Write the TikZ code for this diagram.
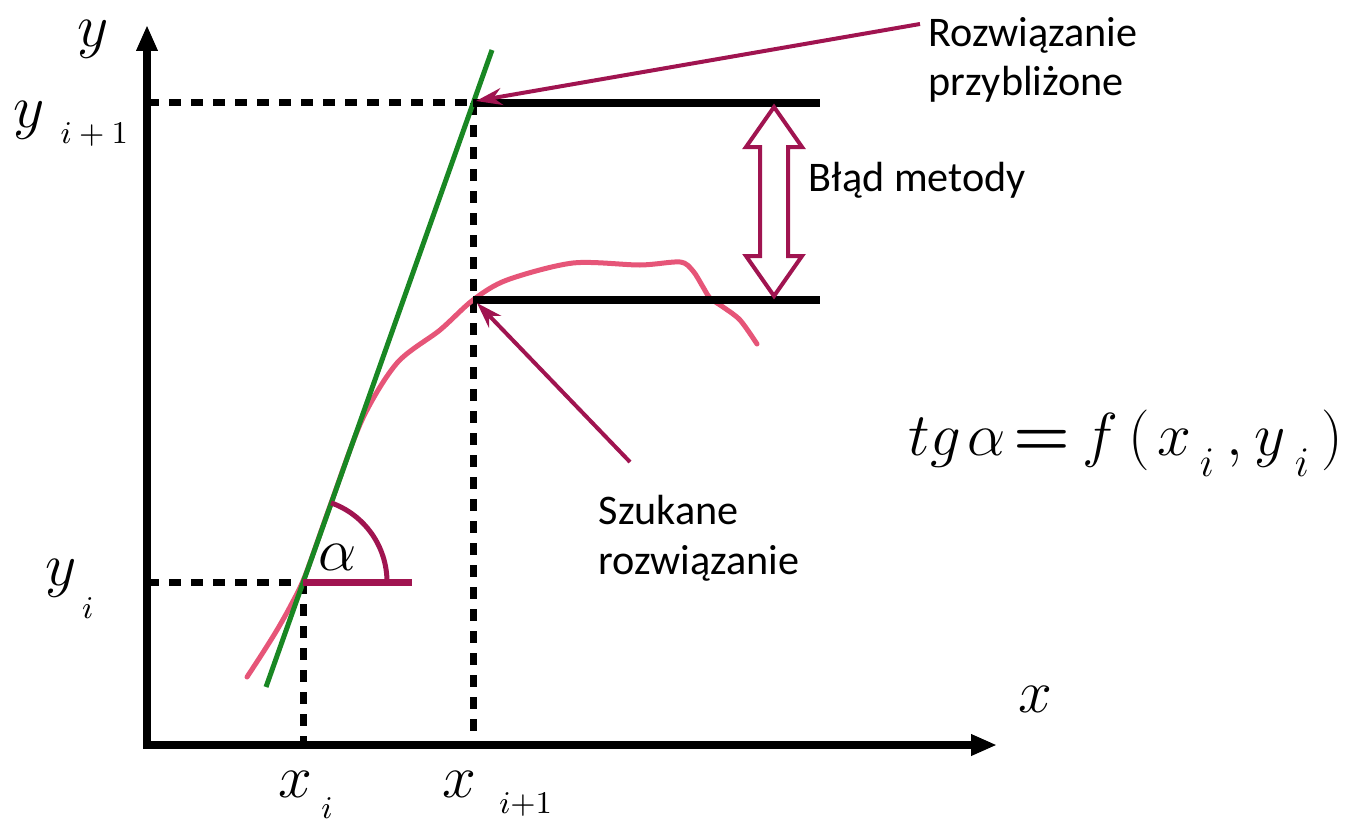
\documentclass[tikz,border=0pt]{standalone}
\usepackage{fontspec}
\newfontfamily\calibri{Carlito}
\usetikzlibrary{arrows.meta, calc}

\definecolor{berry}{RGB}{160,20,80}
\definecolor{curvepink}{RGB}{230,85,120}
\definecolor{tangentgreen}{RGB}{25,135,35}

% lowered index, as in the slide
\newcommand{\lowidx}[3]{\hspace{#1}\raisebox{-#2}{\fontsize{9}{9}\selectfont #3}}

\begin{document}
\begin{tikzpicture}[
        axisline/.style = {line width = 0.08cm, line join = miter,
            {Triangle[length = 0.26cm, width = 0.2cm]}-{Triangle[length = 0.26cm, width = 0.2cm]}},
        guide/.style = {line width = 0.07cm, dash pattern = on 0.12cm off 0.1cm},
        hline/.style = {line width = 0.08cm},
        pointer/.style = {draw = berry, line width = 0.04cm, -{Stealth[length = 0.26cm, width = 0.17cm]}},
        varlabel/.style = {inner sep = 0pt, anchor = base west, font = \fontsize{16}{18}\selectfont},
        note/.style = {inner sep = 0pt, anchor = north west, align = left,
            font = \calibri\fontsize{12}{14}\selectfont}
    ]

    \useasboundingbox (0,0) rectangle (13.46,8.22);

    % points
    \coordinate (O) at (1.47,0.77);
    \coordinate (ytop) at (1.47,7.97);
    \coordinate (xend) at (9.97,0.77);
    \coordinate (Pi) at (3.03,2.40);
    \coordinate (Pi1) at (4.73,7.19);
    \coordinate (Sol) at (4.73,5.22);

    % guides
    \draw[guide] (O |- Pi1) -- (Pi1);
    \draw[guide] (Pi1) -- (O -| Pi1);
    \draw[guide] (O |- Pi) -- (Pi);
    \draw[guide] (Pi) -- (O -| Pi);

    % exact solution
    \draw[curvepink, line width = 0.05cm, line cap = round]
        plot[smooth, tension = 0.5] coordinates {(2.47,1.45) (2.62,1.68) (2.77,1.92) (2.91,2.17) (3.05,2.46)
            (3.30,3.16) (3.62,4.02) (3.97,4.59) (4.40,4.92) (4.73,5.22) (5.07,5.42) (5.73,5.59) (6.40,5.57)
            (6.80,5.60) (6.93,5.51) (7.03,5.35) (7.10,5.24) (7.23,5.15) (7.40,5.02) (7.57,4.78)};

    % tangent
    \draw[tangentgreen, line width = 0.05cm] (2.66,1.35) -- (4.92,7.72);

    % axes
    \draw[axisline] (ytop) -- (O) -- (xend);

    \draw[hline] (Pi1) -- ++(3.47,0);
    \draw[hline] (Sol) -- ++(3.47,0);

    % angle
    \draw[berry, line width = 0.07cm] (Pi) -- ++(1.09,0);
    \draw[berry, line width = 0.05cm] ($(Pi)+(0.84,0)$) arc[start angle = 0, end angle = 70.5, radius = 0.84];

    % error arrow
    \draw[berry, line width = 0.04cm, fill = white, line join = miter]
        (7.74,7.15) -- (7.46,6.75) -- (7.60,6.75) -- (7.60,5.66) -- (7.46,5.66) -- (7.74,5.26)
        -- (8.02,5.66) -- (7.88,5.66) -- (7.88,6.75) -- (8.02,6.75) -- cycle;

    % labels
    \node[varlabel] (ylab) at (0.77,7.75) {$y$};
    \node[varlabel] (xlab) at (10.18,1.10) {$x$};
    \node[varlabel] (yi1) at (0.13,6.94) {$y$\lowidx{4.5pt}{4.3pt}{$i+1$}};
    \node[varlabel] (yi) at (0.45,2.37) {$y$\lowidx{1.5pt}{9.4pt}{$i$}};
    \node[varlabel] (xi) at (2.78,0.25) {$x$\lowidx{2.5pt}{6pt}{$i$}};
    \node[varlabel] (xi1) at (4.42,0.25) {$x$\lowidx{6.5pt}{4.8pt}{$i{+}1$}};
    \node[varlabel] (alpha) at (3.18,2.52) {$\alpha$};

    \node[note] (rp) at (9.28,8.05) {Rozwiązanie\\przybliżone};
    \node[note] (sz) at (5.98,3.27) {Szukane\\rozwiązanie};
    \node[note] (blad) at (8.08,6.60) {Błąd metody};

    \node[inner sep = 0pt, anchor = base west, font = \fontsize{18.5}{22}\selectfont] (eq) at (9.08,3.67)
        {$tg$\hspace{2pt}$\alpha$\hspace{2pt}\textbf{=}\hspace{3.5pt}$f$\hspace{3pt}$($\hspace{2pt}$x$\raisebox{-6pt}{\fontsize{12}{12}\selectfont\hspace{2.5pt}$i$}\hspace{3.5pt}$,$\hspace{3.5pt}$y$\raisebox{-6pt}{\fontsize{12}{12}\selectfont\hspace{2.5pt}$i$}\hspace{3.5pt}$)$};

    % pointers
    \draw[pointer] ([xshift = -0.08cm, yshift = -0.07cm]rp.north west) -- ([xshift = 0.03cm, yshift = 0.02cm]Pi1);
    \draw[pointer] ([xshift = 0.32cm, yshift = 0.33cm]sz.north west) -- ([xshift = 0.04cm, yshift = -0.03cm]Sol);

\end{tikzpicture}
\end{document}
